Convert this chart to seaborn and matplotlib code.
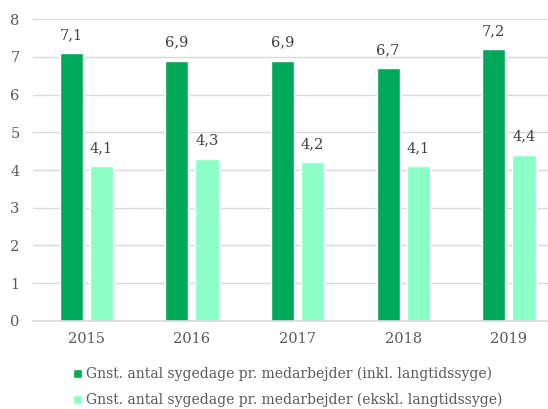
import pandas as pd
import matplotlib
matplotlib.use("Agg")
import matplotlib.pyplot as plt
import seaborn as sns

# Data
years = ["2015", "2016", "2017", "2018", "2019"]
inkl = [7.1, 6.9, 6.9, 6.7, 7.2]
ekskl = [4.1, 4.3, 4.2, 4.1, 4.4]
series_names = [
    "Gnst. antal sygedage pr. medarbejder (inkl. langtidssyge)",
    "Gnst. antal sygedage pr. medarbejder (ekskl. langtidssyge)",
]
y_ticks = [0, 1, 2, 3, 4, 5, 6, 7, 8]

df = pd.DataFrame({
    "År": years * 2,
    "Dage": inkl + ekskl,
    "Serie": [series_names[0]] * len(years) + [series_names[1]] * len(years),
})

sns.set_theme(style="white")
plt.rcParams["font.family"] = ["DejaVu Serif"]
tekst = "#595959"
farver = ["#00A85A", "#8CFFC8"]

fig = plt.figure(figsize=(5.48, 4.09), dpi=100)
ax = fig.add_axes([0.061, 0.2152, 0.964, 0.7383])

sns.barplot(data=df, x="År", y="Dage", hue="Serie", palette=farver,
            width=0.57, gap=0.23, ax=ax, legend=True, saturation=1)

ax.set_ylim(0, 8)
ax.set_xlim(-0.5, 4.5)
ax.set_yticks(y_ticks)
ax.yaxis.grid(True, color="#D9D9D9", linewidth=1)
ax.set_axisbelow(True)
ax.set_xlabel("")
ax.set_ylabel("")
for s in ["top", "right", "left"]:
    ax.spines[s].set_visible(False)
ax.spines["bottom"].set_color("#D9D9D9")
ax.spines["bottom"].set_linewidth(1.2)
ax.tick_params(axis="both", length=0, labelsize=10.5, colors=tekst, pad=8)
ax.tick_params(axis="y", pad=10)

# Værdier over søjlerne, med komma som decimaltegn
for cont in ax.containers:
    ax.bar_label(cont, labels=[f"{v:.1f}".replace(".", ",") for v in cont.datavalues],
                 padding=8, fontsize=10.5, color="#404040")

handles, labels = ax.get_legend_handles_labels()
ax.legend_.remove()
fig.legend(handles, labels, loc="upper left", bbox_to_anchor=(0.133, 0.103),
           frameon=False, fontsize=10, labelcolor=tekst,
           handlelength=0.65, handleheight=0.65, handletextpad=0.3,
           labelspacing=0.85, borderaxespad=0, borderpad=0)

fig.savefig("out.png", dpi=100)
